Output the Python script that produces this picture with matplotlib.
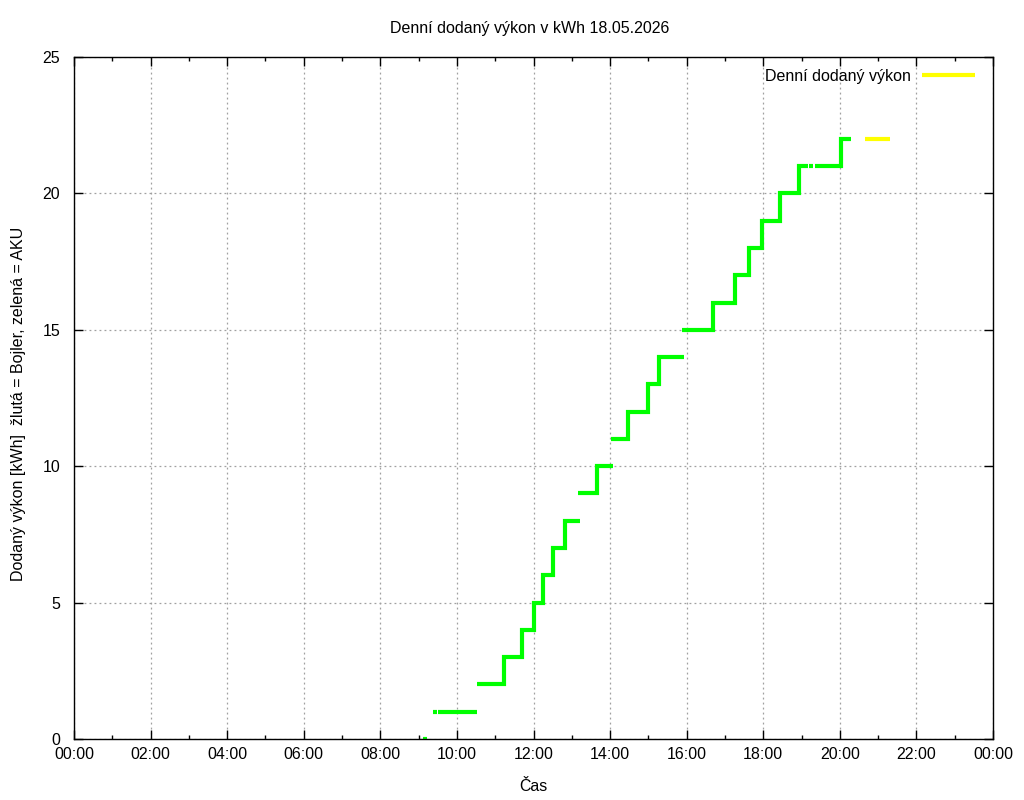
import matplotlib
matplotlib.use("Agg")
import matplotlib.pyplot as plt
from matplotlib.ticker import MultipleLocator, FixedLocator

plt.rcParams['font.family'] = ['Liberation Sans', 'DejaVu Sans']

title = "Denní dodaný výkon v kWh 18.05.2026"
ylabel = "Dodaný výkon [kWh]  žlutá = Bojler, zelená = AKU"
xlabel = "Čas"
legend_label = "Denní dodaný výkon"

# Green (AKU) continuous runs: step times (hours) and values; last time = end of run
green_runs = [
    ([9.11, 9.22], [0, 0]),
    ([9.38, 9.48], [1, 1]),
    ([9.51, 10.52], [1, 1]),
    ([10.52, 11.24, 11.71, 12.00, 12.26, 12.52, 12.81, 13.21], [2, 3, 4, 5, 6, 7, 8, 8]),
    ([13.16, 13.66, 14.07], [9, 10, 10]),
    ([14.02, 14.47, 15.00, 15.28, 15.92], [11, 12, 13, 14, 14]),
    ([15.88, 16.70, 17.25, 17.63, 17.97, 18.44, 18.93, 19.17], [15, 16, 17, 18, 19, 20, 21, 21]),
    ([19.19, 19.29], [21, 21]),
    ([19.35, 20.03, 20.28], [21, 22, 22]),
]
# Yellow (Bojler) runs
yellow_runs = [
    ([20.66, 21.30], [22, 22]),
]

xtick_pos = list(range(0, 25, 2))
xtick_labels = ["%02d:00" % (h % 24) for h in xtick_pos]
ytick_pos = [0, 5, 10, 15, 20, 25]

FS = 11.5

fig = plt.figure(figsize=(10.24, 8.0), dpi=100)
ax = fig.add_axes([74/1024, 1-739/800, (993-74)/1024, (739-57)/800])

for t, v in green_runs:
    ax.plot(t, v, drawstyle='steps-post', color='#00ff00', lw=3.0,
            solid_capstyle='butt', solid_joinstyle='miter')
for i, (t, v) in enumerate(yellow_runs):
    ax.plot(t, v, drawstyle='steps-post', color='#ffff00', lw=3.0,
            solid_capstyle='butt', label=legend_label if i == 0 else None)

ax.set_xlim(0, 24)
ax.set_ylim(0, 25)
ax.xaxis.set_major_locator(FixedLocator(xtick_pos))
ax.set_xticklabels(xtick_labels)
ax.xaxis.set_minor_locator(MultipleLocator(1))
ax.yaxis.set_major_locator(FixedLocator(ytick_pos))

ax.tick_params(axis='both', which='both', direction='in', top=True, right=True,
               labelsize=FS, colors='black')
ax.tick_params(axis='x', which='major', pad=6)
ax.tick_params(axis='y', which='major', pad=10)
ax.tick_params(which='major', length=6.5, width=1)
ax.tick_params(which='minor', length=3, width=1)
ax.grid(True, which='major', color='#a0a0a0', linestyle=(0, (1.5, 2.5)), linewidth=0.9)
for s in ax.spines.values():
    s.set_linewidth(1)
    s.set_color('black')

fig.text(530/1024, 1-28/800, title, ha='center', va='center', fontsize=FS)
ax.set_xlabel(xlabel, fontsize=FS, labelpad=12)
ax.set_ylabel(ylabel, fontsize=FS, labelpad=11.5)
ax.yaxis.label.set_y(0.491)

leg = ax.legend(loc='center right', bbox_to_anchor=(975/1024, 1-76.5/800),
                bbox_transform=fig.transFigure, frameon=False, fontsize=FS,
                handlelength=3.3, markerfirst=False, borderaxespad=0, borderpad=0,
                handletextpad=0.7)

fig.savefig("out.png", dpi=100)
